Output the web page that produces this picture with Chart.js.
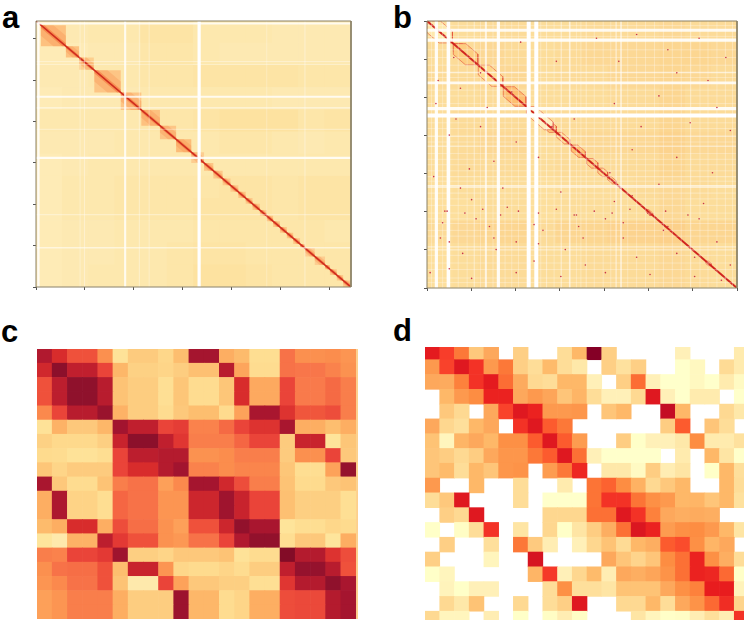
<!DOCTYPE html>
<html>
<head>
<meta charset="utf-8">
<title>Contact maps</title>
<script src="https://cdn.jsdelivr.net/npm/chart.js@4"></script>
<style>
  html, body { margin: 0; padding: 0; background: #fff; }
  #page { position: relative; width: 744px; height: 620px; overflow: hidden; }
  #page canvas { position: absolute; filter: blur(0.4px); }
  .tag { position: absolute; font: bold 31px/1 "Liberation Sans", Arial, sans-serif; color: #000; }
</style>
</head>
<body>
<div id="page">
  <div class="tag" style="left:2px;top:2px">a</div>
  <div class="tag" style="left:393px;top:2px">b</div>
  <div class="tag" style="left:1px;top:316px">c</div>
  <div class="tag" style="left:393px;top:315px">d</div>
  <canvas id="chartA" width="320" height="271" style="left:32px;top:20px"></canvas>
  <canvas id="chartB" width="318" height="278" style="left:423px;top:14px"></canvas>
  <canvas id="chartC" width="321" height="270" style="left:37px;top:349px"></canvas>
  <canvas id="chartD" width="324" height="279" style="left:425px;top:347px"></canvas>
</div>
<script>
// Panel a: bins on both axes, background tint, domains, white stripes
const aBins = 643;
const aTint = [
  [6, 8, 9, 9, 11, 11, 9, 9, 9, 8, 8, 8],
  [7, 7, 8, 8, 10, 10, 9, 8, 8, 8, 8, 8],
  [8, 8, 9, 9, 10, 10, 11, 11, 11, 11, 10, 10],
  [7, 8, 8, 8, 9, 9, 9, 9, 9, 8, 8, 8],
  [9, 9, 9, 9, 10, 10, 11, 12, 12, 12, 10, 11],
  [8, 8, 8, 9, 9, 9, 9, 10, 10, 9, 8, 9],
  [7, 8, 9, 9, 9, 9, 9, 9, 9, 9, 9, 9],
  [7, 9, 9, 10, 10, 10, 10, 11, 11, 10, 11, 11],
  [7, 9, 9, 10, 10, 10, 11, 11, 11, 10, 11, 11],
  [7, 8, 8, 9, 9, 9, 10, 10, 10, 10, 10, 9],
  [7, 8, 8, 9, 9, 10, 11, 11, 10, 10, 10, 10],
  [7, 8, 9, 9, 9, 10, 12, 12, 11, 10, 10, 10]
];
// [from bin, to bin, level]
const aDomains = [
  [10, 61, 32], [61, 88, 32], [88, 118, 22], [119, 173, 30], [173, 215, 30], [215, 253, 32],
  [253, 286, 30], [286, 317, 34], [317, 343, 24], [343, 362, 30], [362, 381, 28], [381, 397, 28],
  [397, 413, 26], [413, 428, 30], [428, 442, 28], [442, 457, 28], [457, 471, 24], [471, 484, 30],
  [484, 498, 28], [498, 512, 30], [512, 525, 30], [525, 539, 28], [539, 549, 26], [549, 569, 24],
  [569, 590, 24], [590, 600, 30], [600, 614, 28], [614, 627, 28], [627, 643, 28]
];
const aStripesX = [[5, 0.85], [90, 0.3], [99, 0.35], [182, 0.8], [211, 0.35], [231, 0.3], [333, 1], [471, 0.25], [549, 0.35]];
const aStripesY = [[637, 0.8], [545, 0.35], [538, 0.3], [460, 0.8], [433, 0.6], [381, 0.3], [312, 0.85], [175, 0.35], [95, 0.55]];

// Panel b
const bBins = 695;
const bTint = [
  [14, 15, 16, 16, 15, 15, 16, 16, 16, 17, 16, 16],
  [15, 16, 17, 16, 15, 16, 17, 17, 17, 18, 18, 17],
  [16, 16, 17, 17, 15, 16, 16, 17, 17, 18, 17, 16],
  [15, 15, 16, 16, 15, 15, 15, 16, 16, 18, 16, 16],
  [15, 16, 16, 16, 15, 16, 16, 16, 16, 18, 16, 16],
  [15, 16, 17, 17, 15, 16, 17, 17, 17, 19, 17, 17],
  [15, 16, 16, 16, 15, 16, 16, 16, 16, 18, 16, 16],
  [14, 15, 15, 15, 14, 15, 15, 15, 16, 17, 16, 15],
  [14, 14, 15, 15, 14, 15, 15, 15, 15, 17, 15, 15],
  [16, 17, 18, 18, 16, 18, 18, 19, 19, 20, 18, 18],
  [14, 15, 16, 16, 15, 15, 16, 16, 16, 17, 16, 15],
  [14, 15, 16, 16, 15, 15, 16, 16, 16, 17, 16, 15]
];
// [from bin, to bin, band width, level]
const bDomains = [
  [0, 57, 30, 10], [59, 114, 28, 26], [59, 88, 20, 42], [115, 170, 25, 20], [171, 222, 25, 32],
  [223, 283, 20, 8], [253, 290, 16, 28], [290, 320, 12, 22], [323, 355, 15, 32], [358, 383, 14, 26],
  [383, 405, 12, 22], [405, 424, 8, 22], [491, 506, 6, 22], [625, 637, 6, 22]
];
const bStripesX = [[21, 0.9], [48, 0.95], [106, 0.4], [132, 0.7], [160, 0.9], [228, 1], [245, 1], [268, 0.4], [301, 0.45], [320, 0.6], [357, 0.35], [424, 0.5], [435, 0.6], [591, 0.4], [669, 0.3]];
const bStripesY = [[671, 0.85], [645, 0.9], [561, 0.6], [534, 0.85], [467, 0.9], [449, 1], [395, 0.45], [369, 0.45], [321, 0.3], [290, 0.35], [266, 0.6], [262, 0.5], [247, 0.3], [168, 0.3], [107, 0.5], [99, 0.45], [26, 0.3]];
const bThinX = [10, 35, 70, 90, 120, 148, 175, 190, 205, 255, 285, 335, 345, 375, 395, 412, 450, 470, 490, 510, 530, 550, 570, 612, 630, 650, 685];
const bThinY = [683, 655, 620, 600, 580, 548, 515, 500, 480, 430, 415, 380, 350, 335, 305, 278, 232, 215, 195, 180, 150, 135, 85, 65, 48, 14];
const bSpecks = [
  [50, 398], [50, 50], [7, 40], [200, 120], [330, 190], [420, 225], [110, 180], [260, 150], [500, 190], [610, 180],
  [40, 200], [95, 310], [150, 330], [170, 260], [300, 250], [355, 60], [470, 80], [560, 90], [650, 120], [30, 130],
  [120, 560], [290, 590], [470, 660], [540, 620], [610, 650], [670, 600], [520, 500], [590, 430], [650, 470], [430, 590],
  [380, 650], [210, 640], [60, 600], [20, 480], [65, 440], [120, 420], [200, 380], [330, 440], [460, 360], [560, 340],
  [640, 300], [80, 90], [155, 100], [240, 70], [310, 100], [400, 180], [440, 130], [530, 150], [600, 80], [680, 60],
  [100, 230], [180, 210], [350, 130], [460, 240], [520, 270], [620, 220], [15, 290], [75, 260], [250, 340], [410, 300],
  [45, 200], [85, 195], [125, 205], [165, 190], [205, 200], [250, 195], [290, 205], [335, 190], [375, 200], [415, 195],
  [455, 205], [495, 195], [535, 200], [585, 190], [35, 170], [140, 160], [240, 165], [340, 160], [440, 170], [540, 160],
  [50, 120], [150, 130], [250, 115], [300, 30], [200, 40], [100, 25], [400, 40], [500, 35], [600, 30], [660, 20],
  [25, 540], [75, 520], [135, 470], [190, 510], [280, 420], [420, 480], [480, 420], [560, 560], [630, 540], [680, 410]
];
const bStray = [[274, 708]];

// Panel c: rows top to bottom
const cValues = [
  [82, 72, 62, 62, 46, 14, 27, 27, 21, 32, 85, 85, 36, 33, 17, 17, 54, 46, 46, 47, 44],
  [74, 93, 78, 78, 65, 34, 24, 24, 22, 26, 31, 31, 80, 38, 18, 18, 54, 53, 53, 50, 45],
  [62, 79, 92, 92, 80, 30, 26, 26, 16, 29, 18, 18, 29, 72, 37, 37, 65, 52, 52, 56, 51],
  [62, 79, 92, 92, 80, 30, 26, 26, 16, 29, 18, 18, 29, 72, 37, 37, 65, 52, 52, 56, 51],
  [48, 65, 80, 80, 89, 35, 26, 26, 18, 28, 32, 32, 19, 39, 84, 84, 70, 61, 61, 63, 51],
  [14, 35, 28, 28, 34, 86, 78, 78, 65, 67, 50, 50, 56, 65, 70, 70, 84, 36, 36, 32, 36],
  [24, 20, 20, 20, 25, 76, 93, 93, 78, 69, 51, 51, 51, 57, 65, 65, 27, 76, 76, 13, 29],
  [19, 18, 14, 14, 17, 65, 79, 79, 81, 81, 45, 45, 47, 51, 51, 51, 27, 46, 46, 65, 28],
  [29, 22, 27, 27, 27, 65, 72, 72, 81, 86, 50, 50, 47, 49, 49, 49, 29, 17, 17, 39, 90],
  [84, 28, 18, 18, 30, 51, 54, 54, 40, 48, 85, 85, 74, 63, 51, 51, 30, 19, 19, 28, 30],
  [36, 83, 23, 23, 17, 57, 54, 54, 44, 44, 75, 75, 87, 76, 65, 65, 31, 25, 25, 25, 16],
  [36, 83, 23, 23, 17, 57, 54, 54, 44, 44, 75, 75, 87, 76, 65, 65, 31, 25, 25, 25, 16],
  [33, 36, 72, 72, 36, 63, 55, 55, 45, 40, 62, 62, 75, 91, 84, 84, 13, 17, 17, 21, 19],
  [12, 10, 35, 35, 79, 68, 62, 62, 45, 43, 54, 54, 65, 82, 91, 91, 17, 28, 28, 12, 36],
  [51, 50, 65, 65, 68, 87, 25, 25, 22, 28, 28, 28, 30, 14, 18, 18, 98, 81, 81, 70, 63],
  [46, 54, 55, 55, 62, 32, 76, 76, 44, 21, 19, 19, 22, 18, 26, 26, 78, 90, 90, 80, 62],
  [44, 48, 54, 54, 62, 30, 10, 10, 65, 39, 28, 28, 25, 25, 16, 16, 69, 81, 81, 92, 84],
  [40, 44, 51, 51, 51, 36, 26, 26, 26, 88, 34, 34, 18, 22, 36, 36, 63, 64, 64, 81, 85],
  [40, 44, 51, 51, 51, 36, 26, 26, 26, 88, 34, 34, 18, 22, 36, 36, 63, 64, 64, 81, 85]
];

// Panel d: rows top to bottom, 0 is an empty cell
const dValues = [
  [73, 66, 52, 27, 38, 0, 24, 0, 0, 18, 33, 97, 24, 0, 0, 0, 0, 10, 0, 0, 0, 12],
  [43, 65, 74, 68, 43, 52, 24, 18, 32, 18, 13, 0, 24, 16, 24, 0, 0, 3, 7, 0, 19, 12],
  [38, 37, 50, 68, 73, 55, 37, 20, 18, 33, 33, 10, 0, 24, 55, 10, 3, 3, 7, 3, 12, 6],
  [0, 33, 43, 47, 71, 71, 38, 43, 39, 28, 34, 18, 10, 10, 20, 74, 10, 3, 12, 12, 0, 3],
  [0, 27, 20, 0, 38, 65, 74, 71, 43, 43, 44, 0, 28, 33, 0, 0, 80, 33, 0, 0, 20, 13],
  [38, 21, 17, 33, 38, 0, 68, 74, 60, 52, 0, 0, 0, 0, 0, 0, 25, 60, 0, 28, 18, 0],
  [29, 8, 34, 38, 33, 46, 46, 60, 74, 60, 42, 0, 0, 25, 4, 10, 10, 13, 47, 12, 12, 16],
  [28, 25, 20, 25, 38, 44, 44, 52, 60, 74, 54, 10, 3, 3, 3, 3, 0, 12, 0, 33, 14, 3],
  [28, 32, 18, 33, 28, 44, 45, 0, 42, 52, 70, 0, 13, 13, 6, 25, 11, 14, 0, 4, 33, 17],
  [43, 0, 0, 33, 0, 0, 18, 0, 0, 12, 0, 53, 58, 47, 35, 20, 27, 33, 0, 0, 33, 18],
  [18, 27, 74, 0, 0, 0, 18, 0, 3, 3, 3, 53, 68, 68, 53, 46, 43, 33, 34, 28, 33, 16],
  [0, 24, 20, 74, 0, 0, 0, 0, 21, 21, 21, 54, 54, 74, 68, 50, 38, 36, 37, 36, 0, 0],
  [4, 0, 5, 18, 68, 0, 14, 0, 21, 4, 14, 25, 36, 54, 75, 71, 42, 46, 47, 43, 33, 14],
  [0, 24, 0, 0, 17, 0, 52, 26, 11, 0, 10, 21, 29, 19, 33, 36, 60, 63, 46, 34, 38, 0],
  [24, 0, 0, 0, 8, 0, 0, 76, 0, 0, 0, 0, 38, 28, 22, 28, 47, 54, 71, 46, 36, 18],
  [4, 8, 0, 0, 0, 0, 0, 34, 67, 10, 21, 32, 11, 38, 36, 39, 45, 54, 71, 70, 56, 4],
  [0, 9, 4, 10, 10, 0, 0, 0, 18, 46, 17, 17, 14, 29, 29, 29, 38, 46, 50, 72, 72, 9],
  [0, 20, 13, 29, 0, 0, 20, 0, 18, 24, 74, 0, 0, 20, 20, 33, 18, 38, 45, 56, 69, 22],
  [20, 8, 8, 0, 11, 0, 4, 0, 5, 11, 5, 0, 0, 0, 14, 8, 4, 5, 11, 17, 11, 68]
];

const softStops = [
  [0, '#fffbe0'], [8, '#feedbb'], [12, '#fee59c'], [20, '#fed98c'], [27, '#fdcb7e'], [33, '#fdbb6c'], [38, '#fda55c'],
  [47, '#fb8d4d'], [53, '#f8764a'], [60, '#f25a3d'], [66, '#e84038'], [72, '#d82c2c'], [78, '#c01f2e'],
  [85, '#a5152f'], [93, '#8c102b'], [100, '#7f0a26']
];
const sharpStops = [
  [0, '#ffffd4'], [4, '#ffffc8'], [10, '#fff0b8'], [14, '#fee5a4'], [20, '#fed992'], [27, '#fec87c'], [33, '#feb868'],
  [38, '#fda85c'], [47, '#fd8d42'], [53, '#fc7436'], [60, '#fc5b2e'], [66, '#f83d2a'], [72, '#e81c1e'],
  [80, '#c40c24'], [97, '#850026'], [100, '#800026']
];
// maps a and b have a paler low end
const tintStops = [
  [0, '#fff2c8'], [6, '#feecba'], [9, '#fde8ae'], [12, '#fde2a0'], [16, '#fcdb98'], [20, '#fcd08a'],
  [24, '#fdcd90'], [30, '#fdc585'], [34, '#fcbc78'], [42, '#fba05c']
];

function hexToRgb(hex) {
  return [1, 3, 5].map(i => parseInt(hex.slice(i, i + 2), 16));
}

function rampColor(stops, v) {
  let i = 0;
  while (i < stops.length - 2 && v > stops[i + 1][0]) i++;
  const [v0, c0] = stops[i];
  const [v1, c1] = stops[i + 1];
  const t = Math.min(1, Math.max(0, (v - v0) / (v1 - v0)));
  const a = hexToRgb(c0), b = hexToRgb(c1);
  return `rgb(${a.map((n, k) => Math.round(n + (b[k] - n) * t)).join(',')})`;
}

// one floating bar per cell, 0 means nothing drawn
function matrixDataset(rows, xMax, yMax, stops) {
  const data = [], colors = [];
  const rowH = yMax / rows.length;
  rows.forEach((row, r) => {
    const colW = xMax / row.length;
    row.forEach((v, c) => {
      if (v === 0) return;
      data.push({ x: (c + 0.5) * colW, y: [yMax - (r + 1) * rowH, yMax - r * rowH] });
      colors.push(rampColor(stops, v));
    });
  });
  return { type: 'bar', data, backgroundColor: colors, grouped: false, barPercentage: 1, categoryPercentage: 1 };
}

function lineDataset(data, color, width, extra) {
  return Object.assign({
    type: 'line', data, borderColor: color, borderWidth: width, pointRadius: 0, tension: 0,
    borderCapStyle: 'butt', fill: false
  }, extra || {});
}

function stripeDatasets(stripesX, stripesY, n, maxWidth) {
  const out = [];
  const width = s => 1 + (maxWidth - 1) * s * s * s;
  stripesX.forEach(([p, s]) => out.push(lineDataset([{ x: p, y: 0 }, { x: p, y: n }], `rgba(255,255,255,${s})`, width(s))));
  stripesY.forEach(([p, s]) => out.push(lineDataset([{ x: 0, y: p }, { x: n, y: p }], `rgba(255,255,255,${s})`, width(s))));
  return out;
}

function frameDataset(n) {
  return lineDataset([{ x: 0, y: 0 }, { x: 0, y: n }, { x: n, y: n }, { x: n, y: 0 }, { x: 0, y: 0 }], '#8a8064', 1, { clip: false });
}

// band around the diagonal between bins s and e of a map with n bins
function bandPoints(s, e, w, n) {
  return [
    { x: s, y: n - s }, { x: s + w, y: n - s }, { x: e, y: n - e + w }, { x: e, y: n - e },
    { x: e - w, y: n - e }, { x: s, y: n - s - w }, { x: s, y: n - s }
  ];
}

function heatChart(id, datasets, xMax, yMax, ticks, padTop) {
  const axis = (max, side) => ({
    type: 'linear', min: 0, max, offset: false, display: ticks,
    border: { display: false },
    grid: { offset: false, drawOnChartArea: false, drawTicks: true, tickLength: 3, tickColor: '#555' },
    ticks: { display: false, stepSize: ticks ? 100 : 5, includeBounds: false },
    afterFit: s => { if (ticks) s[side] = 4; }
  });
  datasets.forEach((d, i) => { d.order = i; });
  return new Chart(document.getElementById(id), {
    type: 'bar',
    data: { datasets },
    options: {
      responsive: false,
      animation: false,
      events: [],
      layout: { padding: ticks ? { top: padTop, right: 1 } : 0 },
      plugins: { legend: { display: false }, tooltip: { enabled: false }, title: { display: false } },
      scales: { x: axis(xMax, 'height'), y: axis(yMax, 'width') }
    }
  });
}

// Panel a
const aSets = [frameDataset(aBins)]
  .concat(stripeDatasets(aStripesX, aStripesY, aBins, 3.2))
  .concat([lineDataset([{ x: 0, y: aBins }, { x: aBins, y: 0 }], '#cf2c1e', 1.7)]);
aDomains.forEach(([s, e, v]) => {
  const size = e - s;
  aSets.push(lineDataset(bandPoints(s, e, Math.min(size, Math.max(5, size * 0.14)), aBins), 'transparent', 0,
    { fill: 'shape', backgroundColor: 'rgba(246,105,50,0.5)' }));
  aSets.push(lineDataset(bandPoints(s, e, size * 0.5, aBins), 'transparent', 0,
    { fill: 'shape', backgroundColor: 'rgba(250,140,75,0.3)' }));
  aSets.push(lineDataset(
    [{ x: s, y: aBins - s }, { x: e, y: aBins - s }, { x: e, y: aBins - e }, { x: s, y: aBins - e }, { x: s, y: aBins - s }],
    'transparent', 0, { fill: 'shape', backgroundColor: rampColor(tintStops, v) }
  ));
});
aSets.push(matrixDataset(aTint, aBins, aBins, tintStops));
heatChart('chartA', aSets, aBins, aBins, true, 1);

// Panel b
const bSets = [frameDataset(bBins)];
bSets.push(lineDataset(bStray.map(([x, y]) => ({ x, y })), 'transparent', 0, {
  showLine: false, clip: false, pointRadius: 0.8, pointBorderWidth: 0, pointBackgroundColor: '#777'
}));
bSets.push(lineDataset(bSpecks.map(([x, y]) => ({ x, y })), 'transparent', 0, {
  showLine: false, pointRadius: 0.8, pointBorderWidth: 0, pointBackgroundColor: '#c8324a'
}));
bSets.push(...stripeDatasets(bStripesX, bStripesY, bBins, 4));
bThinX.forEach(p => bSets.push(lineDataset([{ x: p, y: 0 }, { x: p, y: bBins }], 'rgba(255,255,255,0.3)', 1)));
bThinY.forEach(p => bSets.push(lineDataset([{ x: 0, y: p }, { x: bBins, y: p }], 'rgba(255,255,255,0.3)', 1)));
bSets.push(lineDataset([{ x: 0, y: bBins }, { x: bBins, y: 0 }], '#d0241e', 2));
bDomains.forEach(([s, e, w, v]) => {
  bSets.push(lineDataset(bandPoints(s, e, w, bBins), 'rgba(226,70,50,0.8)', 0.7,
    { fill: 'shape', backgroundColor: rampColor(softStops, v) }));
});
bSets.push(matrixDataset(bTint, bBins, bBins, tintStops));
heatChart('chartB', bSets, bBins, bBins, true, 7);

// Panel c, a sliver of the next column shows at the right edge
heatChart('chartC', [
  lineDataset([{ x: 21.07, y: 0 }, { x: 21.07, y: 19 }], '#fdd08c', 2),
  matrixDataset(cValues, 21, 19, softStops)
], 21.13, 19, false);

// Panel d, the top row is cut by the edge of the panel
heatChart('chartD', [matrixDataset(dValues, 22, 19, sharpStops)], 22, 18.86, false);
</script>
</body>
</html>
